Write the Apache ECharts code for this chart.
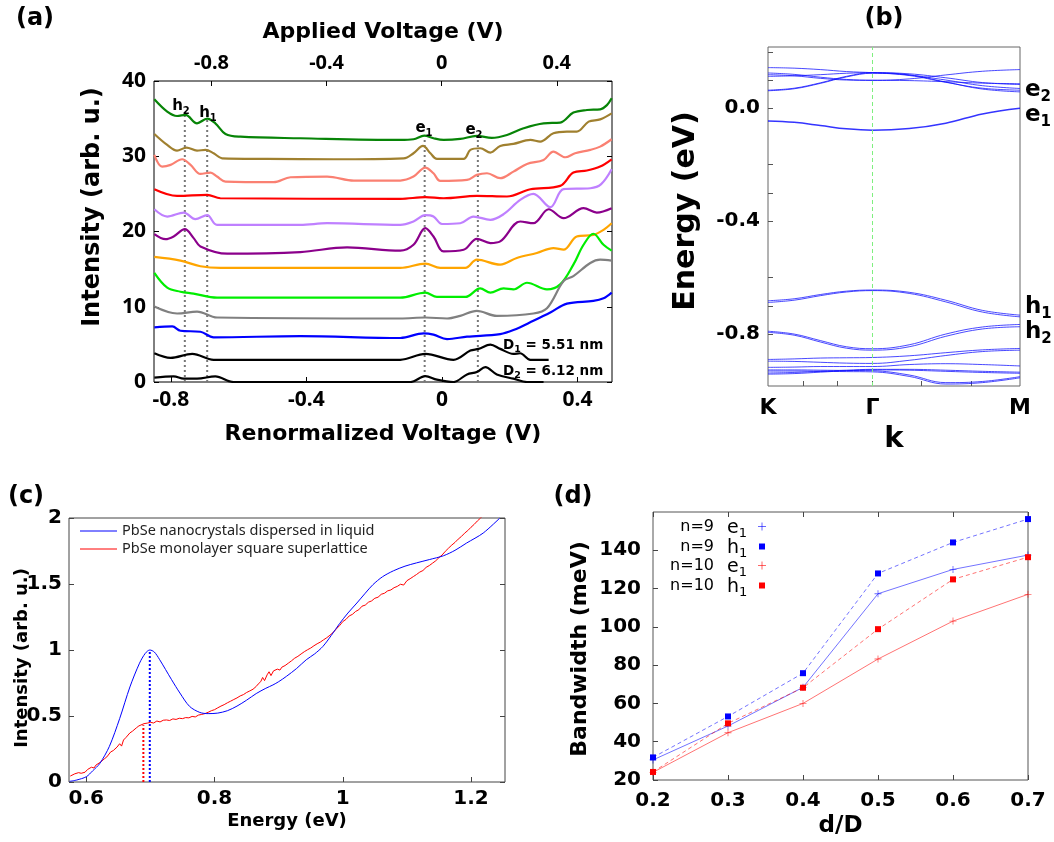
<!DOCTYPE html>
<html><head><meta charset="utf-8">
<script src="https://cdn.jsdelivr.net/npm/echarts@6/dist/echarts.min.js"></script>
<style>html,body{margin:0;padding:0;background:#fff}#c{width:1054px;height:842px}</style>
</head><body><div id="c"></div>
<script>
// ---------- Panel (a): tunneling spectra (renormalized voltage, offset intensity) ----------
const aTicks = [-0.8, -0.4, 0, 0.4];
const curveGreen = [[-0.849,37.57],[-0.811,35.93],[-0.782,35.35],[-0.757,35.49],[-0.723,34.38],[-0.693,35.0],[-0.669,34.38],[-0.639,32.96],[-0.595,32.6],[-0.418,32.39],[-0.123,32.17],[-0.084,32.26],[-0.052,32.74],[-0.025,32.39],[0.005,32.17],[0.054,32.3],[0.103,32.7],[0.147,32.43],[0.192,32.83],[0.241,33.72],[0.300,34.38],[0.349,34.47],[0.388,35.8],[0.428,36.15],[0.467,36.24],[0.487,36.8],[0.501,37.7]];
const curveOlive = [[-0.849,32.96],[-0.811,31.5],[-0.782,30.75],[-0.754,31.15],[-0.723,30.75],[-0.698,30.84],[-0.674,30.4],[-0.649,29.73],[-0.516,29.65],[-0.32,29.6],[-0.113,29.73],[-0.084,30.4],[-0.056,31.37],[-0.034,30.4],[-0.015,29.65],[0.064,29.65],[0.084,30.84],[0.113,31.06],[0.143,30.49],[0.172,31.37],[0.211,31.64],[0.261,32.17],[0.29,31.95],[0.329,33.05],[0.369,33.27],[0.398,33.27],[0.433,34.6],[0.467,34.9],[0.501,35.7]];
const curveSalmon = [[-0.849,30.18],[-0.826,28.63],[-0.801,28.85],[-0.767,29.6],[-0.742,28.85],[-0.713,27.65],[-0.683,27.83],[-0.664,27.3],[-0.639,26.64],[-0.497,26.55],[-0.447,27.21],[-0.339,27.3],[-0.26,26.77],[-0.123,26.77],[-0.084,27.3],[-0.049,28.5],[-0.025,27.74],[-0.005,26.73],[0.074,26.86],[0.103,27.52],[0.133,27.74],[0.172,27.08],[0.211,27.96],[0.251,28.98],[0.300,29.51],[0.329,30.62],[0.364,29.87],[0.393,30.4],[0.438,30.84],[0.467,31.28],[0.501,32.26]];
const curveRed = [[-0.849,25.62],[-0.782,24.73],[-0.693,24.87],[-0.654,24.42],[-0.123,24.34],[-0.049,24.56],[0.005,24.42],[0.103,24.73],[0.192,24.65],[0.261,25.62],[0.349,26.06],[0.388,27.83],[0.428,28.1],[0.467,28.63],[0.501,29.6]];
const curveLilac = [[-0.849,22.96],[-0.811,21.99],[-0.762,22.52],[-0.728,21.64],[-0.693,22.17],[-0.664,20.88],[-0.418,20.88],[-0.339,21.1],[-0.123,20.88],[-0.084,21.33],[-0.049,22.17],[-0.025,21.99],[0.0,21.0],[0.054,21.1],[0.093,21.99],[0.143,21.55],[0.182,22.3],[0.231,24.2],[0.27,25.0],[0.32,23.23],[0.359,25.62],[0.438,25.75],[0.47,26.3],[0.501,28.27]];
const curvePurple = [[-0.849,19.65],[-0.816,18.98],[-0.792,19.34],[-0.759,20.31],[-0.733,19.12],[-0.713,18.02],[-0.634,17.05],[-0.418,17.27],[-0.28,17.89],[-0.123,17.45],[-0.084,18.24],[-0.049,20.44],[-0.025,19.34],[0.005,17.36],[0.064,17.58],[0.103,19.03],[0.143,18.46],[0.172,18.68],[0.231,21.33],[0.27,21.1],[0.315,22.96],[0.359,21.77],[0.418,23.1],[0.457,22.52],[0.501,23.1]];
const curveOrange = [[-0.849,16.62],[-0.772,16.13],[-0.713,15.38],[-0.654,15.16],[-0.123,15.16],[-0.049,15.74],[-0.005,15.16],[0.069,15.16],[0.103,16.26],[0.172,15.6],[0.221,16.48],[0.28,17.14],[0.329,17.8],[0.359,17.58],[0.398,19.34],[0.447,19.56],[0.477,20.22],[0.501,21.1]];
const curveLime = [[-0.849,14.5],[-0.811,12.53],[-0.772,12.0],[-0.733,11.74],[-0.664,11.2],[-0.123,11.2],[-0.049,11.87],[-0.015,11.3],[0.069,11.3],[0.113,12.44],[0.143,11.87],[0.182,12.44],[0.211,12.31],[0.251,13.19],[0.31,12.31],[0.349,12.97],[0.388,15.6],[0.418,18.24],[0.447,19.7],[0.477,18.24],[0.501,17.45]];
const curveGray = [[-0.849,10.02],[-0.782,9.1],[-0.723,9.36],[-0.664,8.57],[-0.123,8.44],[-0.049,8.57],[0.015,8.44],[0.054,8.79],[0.103,9.45],[0.162,8.79],[0.27,9.1],[0.31,9.8],[0.359,13.4],[0.388,14.07],[0.438,15.82],[0.467,16.26],[0.501,16.13]];
const curveBlue = [[-0.849,7.25],[-0.796,7.38],[-0.772,6.81],[-0.713,6.68],[-0.674,5.93],[-0.418,6.1],[-0.123,5.85],[-0.054,6.46],[-0.025,6.29],[0.015,5.71],[0.074,6.02],[0.172,6.37],[0.211,6.9],[0.27,8.13],[0.32,9.23],[0.369,10.42],[0.447,10.77],[0.477,11.12],[0.501,11.87]];
const curveD1 = [[-0.849,3.82],[-0.801,3.21],[-0.737,3.74],[-0.674,2.95],[-0.123,2.95],[-0.049,3.74],[0.034,2.95],[0.084,4.18],[0.108,4.4],[0.143,4.97],[0.172,4.4],[0.211,3.74],[0.231,3.82],[0.261,2.95],[0.315,2.95]];
const curveD2 = [[-0.849,0.57],[-0.792,0.75],[-0.762,0.44],[-0.723,0.44],[-0.669,0.75],[-0.615,0.0],[-0.093,0.0],[-0.049,0.79],[-0.015,0.31],[0.034,0.0],[0.074,1.01],[0.103,1.32],[0.128,1.98],[0.162,1.01],[0.211,0.44],[0.251,0.0],[0.300,0.0]];
const aCurveColors = ['#078407','#a0802f','#fa8072','#ff0000','#bf80ff','#8b008b','#ffa500','#00ee00','#808080','#0000ff','#000000','#000000'];
const peakLineX = [-0.759, -0.693, -0.051, 0.106];
const peakLineTop = [35.4, 34.9, 32.6, 32.6];

// ---------- Panel (b): band structure ----------
const kPts = [0, 0.25, 0.5, 0.75, 1.0, 1.35, 1.7, 2.05, 2.41];
const kLabelPos = [0, 1, 2.41];
const kLabels = ['K', 'Γ', 'M'];
const kTickPos = [0.333, 0.667, 1, 1.47, 1.94];
const bandA  = [0.144, 0.142, 0.137, 0.130, 0.126, 0.118, 0.100, 0.080, 0.070];
const bandB  = [0.125, 0.120, 0.110, 0.102, 0.099, 0.104, 0.118, 0.131, 0.137];
const bandC  = [0.119, 0.115, 0.106, 0.100, 0.099, 0.098, 0.094, 0.089, 0.087];
const bandD  = [0.113, 0.115, 0.119, 0.124, 0.126, 0.122, 0.108, 0.091, 0.084];
const bandE  = [0.064, 0.071, 0.090, 0.113, 0.126, 0.118, 0.093, 0.068, 0.058];
const bandF  = [0.062, 0.069, 0.088, 0.111, 0.124, 0.116, 0.092, 0.071, 0.064];
const bandE1 = [-0.045, -0.050, -0.061, -0.073, -0.078, -0.072, -0.053, -0.020, 0.000];
const bandH1a = [-0.682, -0.675, -0.660, -0.648, -0.644, -0.652, -0.680, -0.716, -0.733];
const bandH1b = [-0.688, -0.680, -0.664, -0.651, -0.646, -0.656, -0.686, -0.722, -0.739];
const bandH2a = [-0.790, -0.800, -0.823, -0.845, -0.852, -0.838, -0.800, -0.775, -0.766];
const bandH2b = [-0.794, -0.804, -0.828, -0.850, -0.857, -0.845, -0.808, -0.782, -0.774];
const bandL1 = [-0.890, -0.888, -0.885, -0.884, -0.883, -0.877, -0.866, -0.856, -0.851];
const bandL2 = [-0.896, -0.897, -0.900, -0.903, -0.904, -0.893, -0.876, -0.862, -0.857];
const bandL3 = [-0.918, -0.917, -0.915, -0.915, -0.915, -0.908, -0.905, -0.908, -0.913];
const bandL4a = [-0.927, -0.927, -0.928, -0.929, -0.930, -0.945, -0.972, -0.968, -0.951];
const bandL4b = [-0.931, -0.931, -0.932, -0.933, -0.934, -0.950, -0.977, -0.972, -0.955];
const bandL5a = [-0.942, -0.940, -0.935, -0.930, -0.927, -0.928, -0.932, -0.936, -0.939];
const bandL5b = [-0.938, -0.936, -0.932, -0.928, -0.925, -0.925, -0.928, -0.932, -0.935];
const bTickE = [0.2, 0.1, 0, -0.2, -0.3, -0.4, -0.6, -0.7, -0.8];
const bLabelE = [0, -0.4, -0.8];

// ---------- Panel (c): absorption spectra ----------
const cTicks = [0.6, 0.8, 1, 1.2];
const cBlue = [[0.574,0.005],[0.585,0.015],[0.6,0.04],[0.61,0.085],[0.621,0.14],[0.636,0.27],[0.652,0.48],[0.668,0.72],[0.683,0.9],[0.692,0.975],[0.699,1.0],[0.706,0.985],[0.714,0.93],[0.733,0.775],[0.746,0.674],[0.761,0.573],[0.777,0.527],[0.79,0.518],[0.805,0.522],[0.82,0.54],[0.835,0.575],[0.85,0.62],[0.865,0.67],[0.88,0.71],[0.891,0.735],[0.9,0.76],[0.912,0.8],[0.928,0.86],[0.943,0.926],[0.956,0.97],[0.969,1.027],[0.982,1.11],[0.995,1.2],[1.008,1.28],[1.022,1.356],[1.035,1.43],[1.047,1.495],[1.062,1.555],[1.079,1.6],[1.097,1.635],[1.115,1.66],[1.135,1.685],[1.157,1.714],[1.175,1.755],[1.193,1.81],[1.219,1.886],[1.245,2.0]];
const cRed = [[0.575,0.045],[0.578,0.050],[0.582,0.062],[0.585,0.052],[0.588,0.071],[0.592,0.066],[0.595,0.080],[0.598,0.074],[0.602,0.095],[0.605,0.090],[0.608,0.112],[0.612,0.106],[0.615,0.128],[0.618,0.134],[0.622,0.150],[0.625,0.146],[0.628,0.175],[0.632,0.190],[0.635,0.205],[0.638,0.228],[0.642,0.238],[0.645,0.226],[0.648,0.265],[0.652,0.290],[0.655,0.272],[0.658,0.318],[0.662,0.338],[0.665,0.330],[0.668,0.372],[0.672,0.385],[0.675,0.398],[0.678,0.410],[0.682,0.425],[0.685,0.430],[0.690,0.442],[0.695,0.446],[0.700,0.452],[0.705,0.447],[0.710,0.462],[0.715,0.455],[0.720,0.468],[0.725,0.470],[0.730,0.466],[0.735,0.478],[0.740,0.474],[0.745,0.483],[0.750,0.480],[0.755,0.488],[0.760,0.486],[0.765,0.497],[0.770,0.493],[0.775,0.507],[0.780,0.512],[0.785,0.518],[0.790,0.528],[0.795,0.540],[0.800,0.548],[0.805,0.562],[0.810,0.575],[0.815,0.586],[0.820,0.600],[0.825,0.612],[0.830,0.625],[0.835,0.637],[0.840,0.652],[0.845,0.662],[0.850,0.678],[0.855,0.690],[0.860,0.703],[0.865,0.724],[0.868,0.742],[0.872,0.760],[0.875,0.792],[0.878,0.768],[0.882,0.812],[0.885,0.835],[0.888,0.806],[0.892,0.842],[0.895,0.828],[0.898,0.855],[0.902,0.848],[0.905,0.870],[0.910,0.882],[0.915,0.900],[0.920,0.918],[0.925,0.938],[0.930,0.952],[0.935,0.970],[0.940,0.987],[0.945,1.002],[0.950,1.015],[0.955,1.032],[0.960,1.047],[0.965,1.060],[0.970,1.077],[0.975,1.093],[0.980,1.112],[0.985,1.133],[0.990,1.160],[0.995,1.185],[1.000,1.215],[1.005,1.232],[1.010,1.258],[1.015,1.270],[1.020,1.292],[1.025,1.305],[1.030,1.332],[1.035,1.340],[1.040,1.362],[1.045,1.372],[1.050,1.392],[1.055,1.400],[1.060,1.422],[1.065,1.430],[1.070,1.448],[1.075,1.455],[1.080,1.472],[1.085,1.482],[1.090,1.498],[1.095,1.492],[1.100,1.525],[1.105,1.540],[1.110,1.556],[1.115,1.572],[1.120,1.590],[1.125,1.602],[1.130,1.626],[1.135,1.640],[1.140,1.658],[1.145,1.676],[1.150,1.700],[1.155,1.720],[1.160,1.748],[1.165,1.772],[1.170,1.795],[1.175,1.815],[1.180,1.840],[1.185,1.860],[1.190,1.885],[1.195,1.905],[1.200,1.930],[1.205,1.952],[1.210,1.978],[1.215,2.000],[1.220,2.025]];
const cRedEdge = [[0.689,0],[0.689,0.43]];
const cBlueEdge = [[0.699,0],[0.699,1.0]];
const cLegend = ['PbSe nanocrystals dispersed in liquid', 'PbSe monolayer square superlattice'];

// ---------- Panel (d): bandwidth vs d/D ----------
const dRatio = [0.2, 0.3, 0.4, 0.5, 0.6, 0.7];
const n9e1  = [30.5, 48.2, 68.4, 117.3, 130.0, 137.5];
const n9h1  = [31.8, 53.2, 75.8, 127.9, 144.1, 156.3];
const n10e1 = [24.0, 44.7, 60.0, 83.2, 103.0, 117.0];
const n10h1 = [24.2, 49.6, 68.2, 98.8, 124.8, 136.4];

// ---------------------------------------------------------------
const FN = 'Noto Sans';
const FD = 'DejaVu Sans';
const chart = echarts.init(document.getElementById('c'), null, {renderer: 'canvas'});
const pairs = (xs, ys) => xs.map((x, i) => [x, ys[i]]);
const fix1 = v => (Math.abs(v) < 1e-9 ? '0' : v.toFixed(1));

function vAxis(o) {
  const base = {
    type: 'value', scale: false,
    axisLine: {show: false, onZero: false},
    splitLine: {show: false},
    axisTick: {show: true, inside: true, length: 5, lineStyle: {color: '#000', width: 1}},
    axisLabel: {color: '#000', fontFamily: FD, fontWeight: 'bold', fontSize: 20},
    nameLocation: 'middle',
    nameTextStyle: {color: '#000', fontFamily: FD, fontWeight: 'bold', fontSize: 22}
  };
  const r = Object.assign({}, base, o);
  r.axisTick = Object.assign({}, base.axisTick, o.axisTick || {});
  r.axisLabel = Object.assign({}, base.axisLabel, o.axisLabel || {});
  r.nameTextStyle = Object.assign({}, base.nameTextStyle, o.nameTextStyle || {});
  return r;
}

const xAxes = [
  vAxis({gridIndex: 0, position: 'bottom', min: -0.85, max: 0.502, name: 'Renormalized Voltage (V)', nameGap: 41,
    axisTick: {customValues: aTicks}, axisLabel: {customValues: aTicks, formatter: fix1, fontFamily: FN, fontSize: 21, margin: 8}}),
  vAxis({gridIndex: 0, position: 'top', min: -1.0, max: 0.592, name: 'Applied Voltage (V)', nameGap: 38,
    axisTick: {customValues: aTicks}, axisLabel: {customValues: aTicks, formatter: fix1, fontFamily: FN, fontSize: 20, margin: 8}}),
  vAxis({gridIndex: 1, position: 'bottom', min: 0, max: 2.41, name: 'k', nameGap: 39,
    nameTextStyle: {fontSize: 29},
    axisTick: {customValues: kTickPos, lineStyle: {color: '#555'}},
    axisLabel: {customValues: kLabelPos, fontSize: 22, margin: 11,
      formatter: v => kLabels[kLabelPos.findIndex(p => Math.abs(p - v) < 1e-6)] || ''}}),
  vAxis({gridIndex: 2, position: 'bottom', min: 0.573, max: 1.253, name: 'Energy (eV)', nameGap: 30,
    nameTextStyle: {fontSize: 18},
    axisTick: {customValues: cTicks, lineStyle: {color: '#444'}},
    axisLabel: {customValues: cTicks, fontSize: 20, margin: 7, formatter: v => (Math.abs(v - 1) < 1e-9 ? '1' : v.toFixed(1))}}),
  vAxis({gridIndex: 3, position: 'bottom', min: 0.2, max: 0.7, interval: 0.1, name: 'd/D', nameGap: 35,
    nameTextStyle: {fontSize: 23},
    axisTick: {lineStyle: {color: '#444'}},
    axisLabel: {fontSize: 20, margin: 11, formatter: v => v.toFixed(1)}}),
  vAxis({gridIndex: 3, position: 'top', min: 0.2, max: 0.7, interval: 0.1,
    axisTick: {lineStyle: {color: '#444'}}, axisLabel: {show: false}})
];

const yAxes = [
  vAxis({gridIndex: 0, position: 'left', min: 0, max: 40, interval: 10,
    axisLabel: {fontFamily: FN, fontSize: 21, margin: 8}}),
  vAxis({gridIndex: 0, position: 'right', min: 0, max: 40, interval: 10, axisLabel: {show: false}}),
  vAxis({gridIndex: 1, position: 'left', min: -0.984, max: 0.217,
    axisTick: {customValues: bTickE, lineStyle: {color: '#555'}},
    axisLabel: {customValues: bLabelE, fontSize: 20, margin: 8, formatter: v => (Math.abs(v) < 1e-9 ? '0.0' : v.toFixed(1))}}),
  vAxis({gridIndex: 2, position: 'left', min: 0, max: 2, interval: 0.5,
    axisTick: {lineStyle: {color: '#444'}},
    axisLabel: {fontSize: 20, margin: 7}}),
  vAxis({gridIndex: 2, position: 'right', min: 0, max: 2, interval: 0.5, axisTick: {lineStyle: {color: '#444'}}, axisLabel: {show: false}}),
  vAxis({gridIndex: 3, position: 'left', min: 20, max: 160, interval: 20,
    axisTick: {lineStyle: {color: '#444'}},
    axisLabel: {fontSize: 20, margin: 12, showMaxLabel: false}})
];

const series = [];
// (a) dotted guide lines
peakLineX.forEach((x, i) => series.push({
  type: 'line', xAxisIndex: 0, yAxisIndex: 0, data: [[x, 0], [x, peakLineTop[i]]],
  showSymbol: false, silent: true, z: 1,
  lineStyle: {color: '#777', width: 2, type: [2, 3]}
}));
// (a) spectra
[curveGreen, curveOlive, curveSalmon, curveRed, curveLilac, curvePurple, curveOrange, curveLime, curveGray, curveBlue, curveD1, curveD2]
  .forEach((c, i) => series.push({
    type: 'line', xAxisIndex: 0, yAxisIndex: 0, data: c, smooth: 0.35, showSymbol: false, z: 3,
    lineStyle: {color: aCurveColors[i], width: 2.2}
  }));
// (b) bands
const bandList = [bandA, bandB, bandC, bandD, bandE, bandF, bandE1, bandH1a, bandH1b, bandH2a, bandH2b, bandL1, bandL2, bandL3, bandL4a, bandL4b, bandL5a, bandL5b];
bandList.forEach((b, i) => series.push({
  type: 'line', xAxisIndex: 2, yAxisIndex: 2, data: pairs(kPts, b), smooth: 0.4, showSymbol: false, z: 3,
  lineStyle: {color: '#1010ff', width: b === bandE1 ? 1.5 : 0.9, opacity: 0.85},
  markLine: i === 0 ? {silent: true, symbol: 'none', label: {show: false},
    lineStyle: {color: '#7fef7f', type: [4, 3], width: 1}, data: [{xAxis: kLabelPos[1]}]} : undefined
}));
// (c) spectra
series.push({type: 'line', name: cLegend[1], xAxisIndex: 3, yAxisIndex: 3, data: cRed, showSymbol: false, z: 3,
  lineStyle: {color: '#ff0000', width: 1}});
series.push({type: 'line', name: cLegend[0], xAxisIndex: 3, yAxisIndex: 3, data: cBlue, smooth: 0.3, showSymbol: false, z: 4,
  lineStyle: {color: '#0000ff', width: 1}});
series.push({type: 'line', xAxisIndex: 3, yAxisIndex: 3, data: cRedEdge, showSymbol: false, silent: true, z: 2,
  lineStyle: {color: '#ff0000', width: 2, type: [2, 2]}});
series.push({type: 'line', xAxisIndex: 3, yAxisIndex: 3, data: cBlueEdge, showSymbol: false, silent: true, z: 2,
  lineStyle: {color: '#0000ff', width: 2, type: [2, 2]}});
// (d) bandwidth
const plusPath = 'path://M0,4.4H10V5.6H0ZM4.4,0H5.6V10H4.4Z';
const dSeries = [
  {d: n9e1, c: '#0000ff', dash: 'solid', sym: plusPath, sz: 7},
  {d: n9h1, c: '#0000ff', dash: [4, 3], sym: 'rect', sz: 6},
  {d: n10e1, c: '#ff0000', dash: 'solid', sym: plusPath, sz: 7},
  {d: n10h1, c: '#ff0000', dash: [4, 3], sym: 'rect', sz: 6}
];
dSeries.forEach(s => series.push({
  type: 'line', xAxisIndex: 4, yAxisIndex: 5, data: pairs(dRatio, s.d), symbol: s.sym, symbolSize: s.sz,
  showSymbol: true, z: 3,
  lineStyle: {color: s.c, width: 1, opacity: 0.55, type: s.dash},
  itemStyle: {color: s.c, opacity: s.sym === 'rect' ? 1 : 0.6}
}));

// rich text helpers
const richSub = (ff, fw, fs, sfs, lh) => ({
  m: {fontFamily: ff, fontWeight: fw, fontSize: fs, lineHeight: lh, fill: '#000'},
  s: {fontFamily: ff, fontWeight: fw, fontSize: sfs, lineHeight: sfs, verticalAlign: 'bottom', fill: '#000'}
});
function lbl(x, y, txt, fs, align) {
  return {type: 'text', x, y, z: 100, style: {text: txt, fontFamily: FD, fontWeight: 'bold', fontSize: fs,
    fill: '#000', align: align || 'center', verticalAlign: 'middle'}};
}
function vTitle(x, y, txt, fs) {
  return {type: 'text', x, y, rotation: Math.PI / 2, z: 100, style: {text: txt, fontFamily: FD, fontWeight: 'bold', fontSize: fs,
    fill: '#000', align: 'center', verticalAlign: 'middle'}};
}
function subLbl(x, y, m, s, fs, sfs, lh, align) {
  return {type: 'text', x, y, z: 100, style: {text: '{m|' + m + '}{s|' + s + '}', rich: richSub(FD, 'bold', fs, sfs, lh),
    align: align || 'center', verticalAlign: 'middle'}};
}

const graphic = [
  lbl(35, 19, '(a)', 24), lbl(884, 19, '(b)', 24), lbl(26, 497, '(c)', 24), lbl(573, 497, '(d)', 24),
  // y-axis titles
  vTitle(93, 207, 'Intensity (arb. u.)', 24),
  vTitle(686, 211, 'Energy (eV)', 30),
  vTitle(22, 658, 'Intensity (arb. u.)', 18),
  vTitle(580, 649, 'Bandwidth (meV)', 22),
  subLbl(181, 106, 'h', '2', 15, 10, 20), subLbl(208, 113, 'h', '1', 15, 10, 20),
  subLbl(424, 128, 'e', '1', 15, 10, 20), subLbl(474, 130, 'e', '2', 15, 10, 20),
  {type: 'text', x: 503, y: 345, z: 100, style: {text: '{m|D}{s|1}{m| = 5.51 nm}', rich: richSub(FD, 'bold', 13.5, 9.5, 19), align: 'left', verticalAlign: 'middle'}},
  {type: 'text', x: 503, y: 371, z: 100, style: {text: '{m|D}{s|2}{m| = 6.12 nm}', rich: richSub(FD, 'bold', 13.5, 9.5, 19), align: 'left', verticalAlign: 'middle'}},
  subLbl(1025, 90, 'e', '2', 23, 15, 30, 'left'), subLbl(1025, 115, 'e', '1', 23, 15, 30, 'left'),
  subLbl(1025, 307, 'h', '1', 23, 15, 30, 'left'), subLbl(1025, 332, 'h', '2', 23, 15, 30, 'left'),
  // (c) legend
  {type: 'line', z: 100, shape: {x1: 80, y1: 531, x2: 117, y2: 531}, style: {stroke: '#0000ff', lineWidth: 1}},
  {type: 'line', z: 100, shape: {x1: 80, y1: 549, x2: 117, y2: 549}, style: {stroke: '#ff0000', lineWidth: 1}},
  {type: 'text', x: 122, y: 531, z: 100, style: {text: cLegend[0], fontFamily: FN, fontSize: 14.5, fill: '#222', align: 'left', verticalAlign: 'middle'}},
  {type: 'text', x: 122, y: 549, z: 100, style: {text: cLegend[1], fontFamily: FN, fontSize: 14.5, fill: '#222', align: 'left', verticalAlign: 'middle'}}
];
// (d) legend
const dLegRows = [['n=9', 'e', 526.5], ['n=9', 'h', 546.5], ['n=10', 'e', 565.5], ['n=10', 'h', 585.5]];
dLegRows.forEach((r, i) => {
  graphic.push({type: 'text', x: 714, y: r[2], z: 100, style: {text: r[0], fontFamily: FD, fontSize: 16, fill: '#000', align: 'right', verticalAlign: 'middle'}});
  graphic.push({type: 'text', x: 727, y: r[2] + 2, z: 100, style: {text: '{m|' + r[1] + '}{s|1}', rich: richSub(FD, 'normal', 19, 13, 24), align: 'left', verticalAlign: 'middle'}});
  const col = i < 2 ? '#0000ff' : '#ff0000';
  if (r[1] === 'e') {
    graphic.push({type: 'line', z: 100, shape: {x1: 758, y1: r[2], x2: 766, y2: r[2]}, style: {stroke: col, lineWidth: 1, opacity: 0.6}});
    graphic.push({type: 'line', z: 100, shape: {x1: 762, y1: r[2] - 4, x2: 762, y2: r[2] + 4}, style: {stroke: col, lineWidth: 1, opacity: 0.6}});
  } else {
    graphic.push({type: 'rect', z: 100, shape: {x: 759, y: r[2] - 3, width: 6, height: 6}, style: {fill: col}});
  }
});

chart.setOption({
  backgroundColor: '#fff',
  animation: false,
  grid: [
    {left: 154, top: 81, width: 458, height: 301, show: true, borderColor: '#000', borderWidth: 1, backgroundColor: 'transparent'},
    {left: 768, top: 47, width: 252, height: 339, show: true, borderColor: '#666', borderWidth: 1, backgroundColor: 'transparent'},
    {left: 69, top: 518, width: 436, height: 264, show: true, borderColor: '#444', borderWidth: 1, backgroundColor: 'transparent'},
    {left: 653, top: 512, width: 375, height: 268, show: true, borderColor: '#555', borderWidth: 1, backgroundColor: 'transparent'}
  ],
  xAxis: xAxes,
  yAxis: yAxes,
  series: series,
  graphic: graphic
});
</script></body></html>
